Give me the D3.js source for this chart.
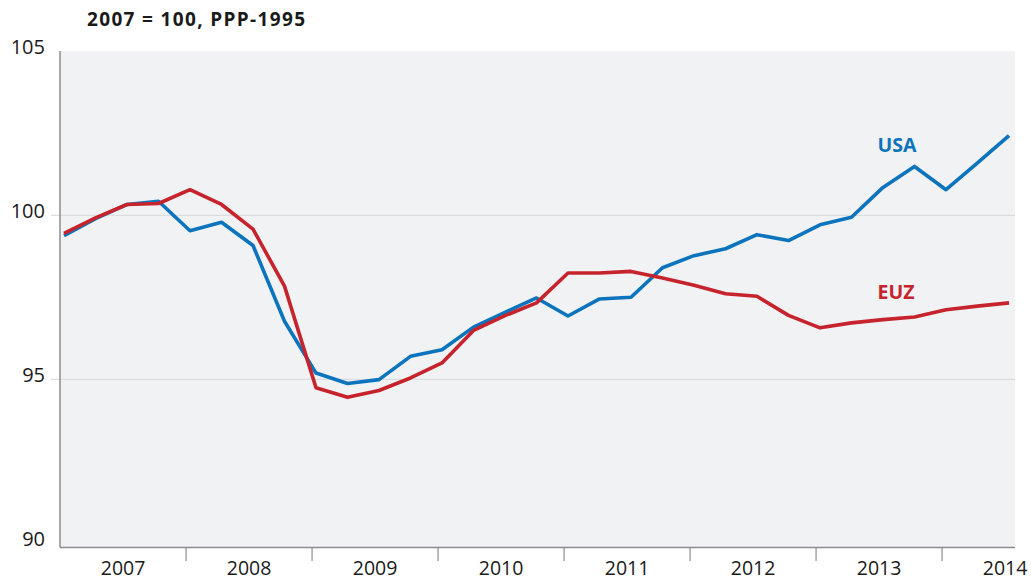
<!DOCTYPE html>
<html>
<head>
<meta charset="utf-8">
<script src="https://cdn.jsdelivr.net/npm/d3@7"></script>
<style>
  body { margin: 0; background: #fff; }
  text { font-family: "Open Sans", sans-serif; }
</style>
</head>
<body>
<div id="chart"></div>
<script>
// quarterly index, 2007 = 100 (2007Q1 .. 2014Q3)
var years = [2007, 2008, 2009, 2010, 2011, 2012, 2013, 2014];
var usa = [99.38, 99.9, 100.33, 100.43, 99.53, 99.79, 99.08, 96.77,
           95.19, 94.87, 94.99, 95.7, 95.9, 96.59, 97.04, 97.48,
           96.93, 97.45, 97.5, 98.4, 98.77, 98.98, 99.41, 99.23,
           99.71, 99.94, 100.85, 101.49, 100.78, 101.6, 102.43];
var euz = [99.45, 99.92, 100.33, 100.36, 100.78, 100.33, 99.58, 97.84,
           94.74, 94.45, 94.66, 95.04, 95.5, 96.49, 96.94, 97.33,
           98.24, 98.24, 98.29, 98.09, 97.87, 97.61, 97.53, 96.95,
           96.57, 96.72, 96.82, 96.9, 97.12, 97.23, 97.33];
var yTicks = [90, 95, 100, 105];
var gridVals = [95, 100];

var width = 1031, height = 580;
var plotLeft = 60, plotRight = 1015, plotTop = 51, plotBottom = 547.5;

var svg = d3.select('#chart').append('svg')
  .attr('width', width).attr('height', height);

var x = d3.scaleLinear().domain([0, 30]).range([64, 1009]);
var y = d3.scaleLinear().domain([90, 105]).range([543.3, 51.3]);

svg.append('rect')
  .attr('x', plotLeft).attr('y', plotTop)
  .attr('width', plotRight - plotLeft).attr('height', plotBottom - plotTop)
  .attr('fill', '#f1f2f4');

svg.selectAll('line.grid').data(gridVals).enter().append('line')
  .attr('class', 'grid')
  .attr('x1', 51).attr('x2', plotRight)
  .attr('y1', function(d) { return y(d); })
  .attr('y2', function(d) { return y(d); })
  .attr('stroke', '#dcdde0').attr('stroke-width', 1.2);

// axes
svg.append('line')
  .attr('x1', plotLeft).attr('x2', plotLeft).attr('y1', plotTop).attr('y2', plotBottom)
  .attr('stroke', '#8c8c8c').attr('stroke-width', 1.5);
svg.append('line')
  .attr('x1', plotLeft).attr('x2', plotRight).attr('y1', plotBottom).attr('y2', plotBottom)
  .attr('stroke', '#8c8c8c').attr('stroke-width', 1.5);

svg.selectAll('text.ylab').data(yTicks).enter().append('text')
  .attr('class', 'ylab')
  .attr('x', 45).attr('y', function(d) { return y(d) + 3; })
  .attr('text-anchor', 'end')
  .attr('font-size', 20).attr('fill', '#1a1a1a')
  .text(function(d) { return d; });

// year separators and labels
svg.selectAll('line.ytick').data(years.slice(1)).enter().append('line')
  .attr('class', 'ytick')
  .attr('x1', function(d, i) { return x(4 * (i + 1) - 0.125); })
  .attr('x2', function(d, i) { return x(4 * (i + 1) - 0.125); })
  .attr('y1', plotBottom).attr('y2', 561)
  .attr('stroke', '#8c8c8c').attr('stroke-width', 1.2);

svg.selectAll('text.xlab').data(years).enter().append('text')
  .attr('class', 'xlab')
  .attr('x', function(d, i) { return x(4 * i + 1.875); })
  .attr('y', 574.5)
  .attr('text-anchor', 'middle')
  .attr('font-size', 19.5).attr('fill', '#1a1a1a')
  .text(function(d) { return d; });

var line = d3.line()
  .x(function(d, i) { return x(i); })
  .y(function(d) { return y(d); });

svg.append('path').datum(usa)
  .attr('d', line).attr('fill', 'none')
  .attr('stroke', '#0b74bc').attr('stroke-width', 3.6)
  .attr('stroke-linejoin', 'round');
svg.append('path').datum(euz)
  .attr('d', line).attr('fill', 'none')
  .attr('stroke', '#c6232d').attr('stroke-width', 3.6)
  .attr('stroke-linejoin', 'round');

svg.append('text')
  .attr('x', 897).attr('y', 152).attr('text-anchor', 'middle')
  .attr('font-size', 19.5).attr('font-weight', 'bold').attr('fill', '#0b74bc')
  .text('USA');
svg.append('text')
  .attr('x', 896).attr('y', 299).attr('text-anchor', 'middle')
  .attr('font-size', 19.5).attr('font-weight', 'bold').attr('fill', '#c6232d')
  .text('EUZ');

svg.append('text')
  .attr('x', 87).attr('y', 26)
  .attr('font-size', 19).attr('font-weight', 'bold').attr('fill', '#1a1a1a')
  .attr('textLength', 218).attr('lengthAdjust', 'spacing')
  .text('2007 = 100, PPP-1995');
</script>
</body>
</html>
